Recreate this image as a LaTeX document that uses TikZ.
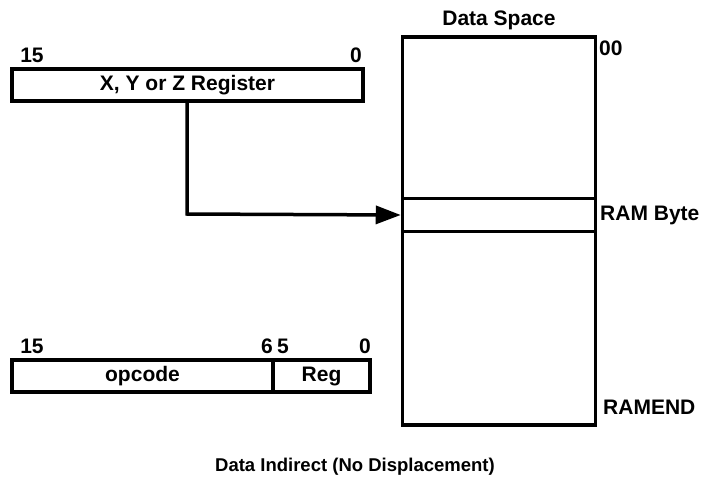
\documentclass[tikz,border=0pt]{standalone}
\usepackage{fontspec}
\setmainfont{Liberation Sans}
\usetikzlibrary{arrows.meta}
\tikzset{
  box/.style={draw, line width=3.5pt, inner sep=0pt, fill=white},
  lbl/.style={inner sep=0pt, font=\fontsize{21}{25}\selectfont\bfseries},
  captext/.style={inner sep=0pt, font=\fontsize{18.5}{22}\selectfont\bfseries},
  conn/.style={line width=3.5pt, -{Triangle[length=25pt,width=18pt]}}
}
\begin{document}
\begin{tikzpicture}[x=1pt,y=-1pt]
\useasboundingbox (0,0) rectangle (704,487);
% top register
\node[box, minimum width=351pt, minimum height=32pt, lbl] (reg) at (187.5,85) {X, Y or Z Register};
\node[lbl] (r15) at (32,55) {15};
\node[lbl] (r0) at (356,55) {0};
% data space
\node[box, minimum width=193pt, minimum height=388pt] (ds) at (499,231) {};
\node[box, minimum width=193pt, minimum height=33pt] (ram) at (499,215) {};
\node[lbl] (dst) at (499,20) {Data Space};
\node[lbl, anchor=west] (d00) at (599,48) {00};
\node[lbl, anchor=west] (dram) at (600,215) {RAM Byte};
\node[lbl, anchor=west] (dend) at (603,407) {RAMEND};
% arrow
\coordinate (bend) at (187,214);
\draw[conn] (reg.south -| bend) -- (bend) -- (ram.west);
% opcode
\node[box, minimum width=261pt, minimum height=32pt, lbl] (op) at (142.5,376) {opcode};
\node[box, minimum width=97pt, minimum height=32pt, lbl] (rg) at (321.5,376) {Reg};
\node[lbl] (o15) at (32,346) {15};
\node[lbl] (o6) at (267,346) {6};
\node[lbl] (o5) at (283,346) {5};
\node[lbl] (o0) at (365,346) {0};
% caption
\node[captext] (caption) at (355,467) {Data Indirect (No Displacement)};
\end{tikzpicture}
\end{document}
